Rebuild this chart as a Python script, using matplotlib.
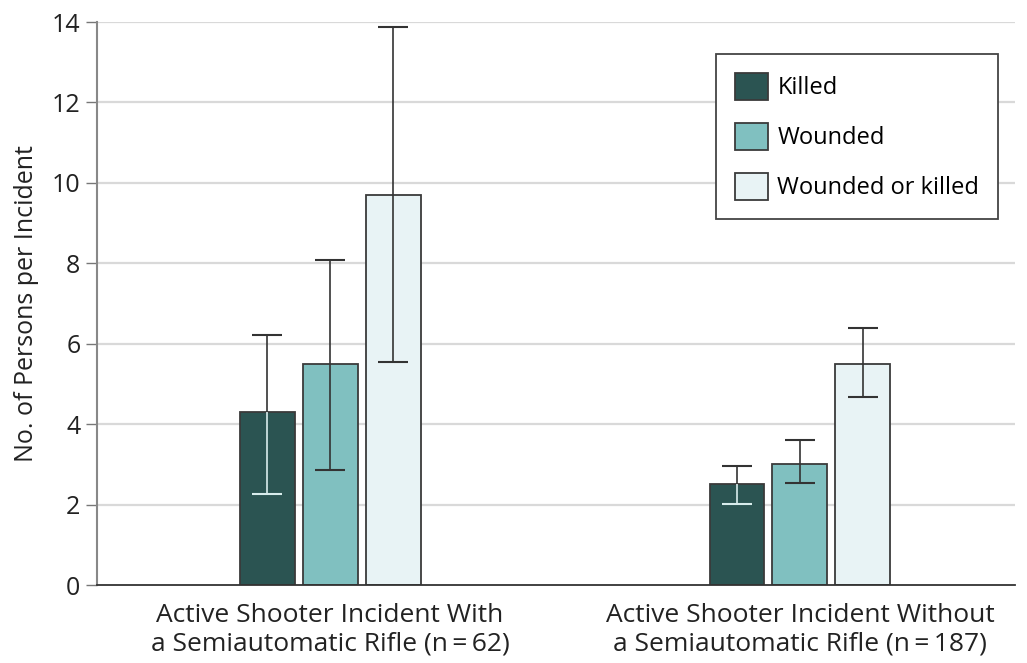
import matplotlib
matplotlib.use("Agg")
import matplotlib.pyplot as plt
import numpy as np

plt.rcParams['font.family'] = ['Open Sans', 'DejaVu Sans']

groups = ["Active Shooter Incident With\na Semiautomatic Rifle (n\u2009=\u200962)",
          "Active Shooter Incident Without\na Semiautomatic Rifle (n\u2009=\u2009187)"]
series = ["Killed", "Wounded", "Wounded or killed"]
values = [[4.3, 2.5], [5.5, 3.0], [9.7, 5.5]]
ci_low = [[2.26, 2.01], [2.86, 2.54], [5.55, 4.68]]
ci_high = [[6.22, 2.96], [8.08, 3.6], [13.88, 6.39]]
colors = ["#2b5452", "#80c0c0", "#e8f3f5"]
yticks = [0, 2, 4, 6, 8, 10, 12, 14]

fig = plt.figure(figsize=(10.27, 6.63), dpi=100)
ax = fig.add_axes([0.0945, 0.1176, 0.8935, 0.8492])

x = np.arange(len(groups))
width = 0.117
step = 0.134
edge = "#3a3a3a"
for i, (name, vals, c) in enumerate(zip(series, values, colors)):
    pos = x + (i - 1) * step
    ax.bar(pos, vals, width=width, color=c, edgecolor=edge, linewidth=1.3, label=name, zorder=3)
    vals = np.array(vals)
    lo = vals - np.array(ci_low[i])
    hi = np.array(ci_high[i]) - vals
    lower_color = "#d8ecec" if i == 0 else "#333333"
    eb_up = ax.errorbar(pos, vals, yerr=[np.zeros_like(vals), hi], fmt="none", ecolor="#333333",
                        elinewidth=1.2, capsize=11, capthick=1.5, zorder=4)
    eb_up[1][0].set_visible(False)
    eb_lo = ax.errorbar(pos, vals, yerr=[lo, np.zeros_like(vals)], fmt="none", ecolor=lower_color,
                        elinewidth=1.2, capsize=11, capthick=1.5, zorder=4)
    eb_lo[1][1].set_visible(False)

ax.set_xlim(-0.496, 1.457)
ax.set_ylim(0, 14)
ax.set_yticks(yticks)
ax.set_yticklabels([str(t) for t in yticks], fontsize=18, color="#222222")
ax.set_xticks(x)
ax.set_xticklabels(groups, fontsize=19, color="#222222", linespacing=1.2)
ax.tick_params(axis="x", length=0, pad=13)
ax.tick_params(axis="y", length=8, width=1, color="#777777", pad=4)
ax.set_ylabel("No. of Persons per Incident", fontsize=18, color="#222222", labelpad=9)

for t in yticks[1:]:
    ax.axhline(t, color="#d9d9d9", linewidth=1.6, zorder=1)

for s in ["top", "right"]:
    ax.spines[s].set_visible(False)
ax.spines["left"].set_color("#888888")
ax.spines["left"].set_linewidth(1.5)
ax.spines["bottom"].set_color("#333333")
ax.spines["bottom"].set_linewidth(1.3)
ax.spines["bottom"].set_zorder(5)

leg = ax.legend(loc="upper right", bbox_to_anchor=(0.982, 0.943), fontsize=17,
                frameon=True, fancybox=False, edgecolor="#444444", framealpha=1,
                handlelength=1.4, handleheight=1.4, handletextpad=0.4,
                labelspacing=0.95, borderpad=0.8, borderaxespad=0)
leg.get_frame().set_linewidth(1.3)
leg.set_zorder(6)

fig.savefig("out.png", dpi=100)
